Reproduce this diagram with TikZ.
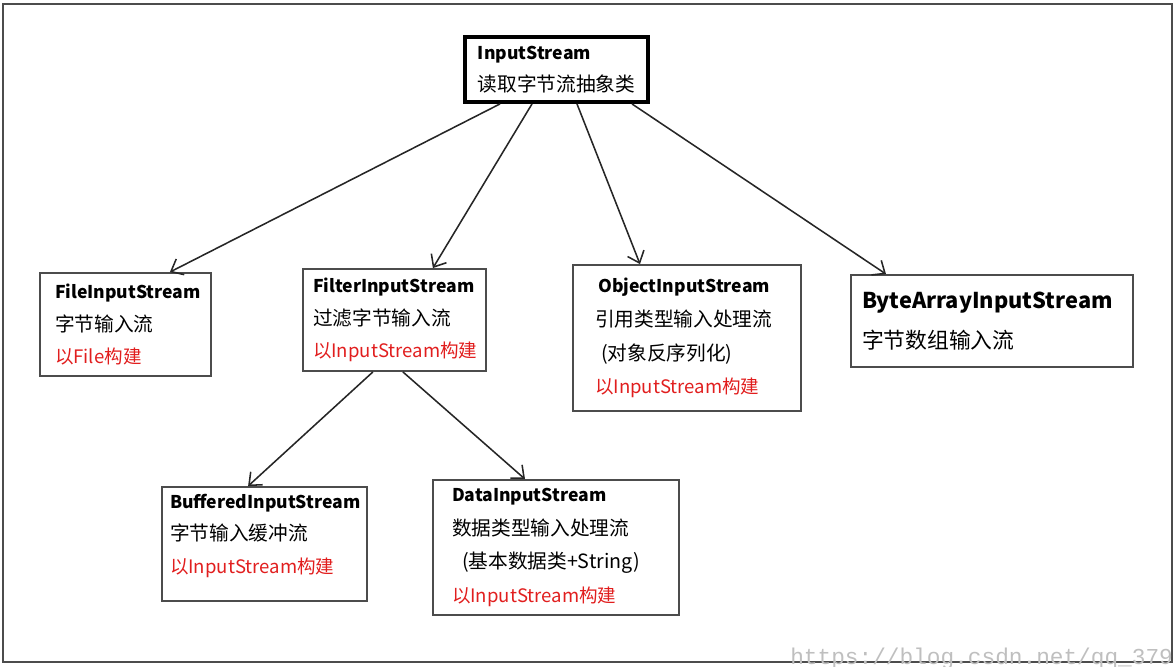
\documentclass[tikz,border=0pt]{standalone}
\usepackage{fontspec}
\setmainfont{Noto Sans CJK SC}
\newfontfamily\markfont{Liberation Mono}
\usepackage{xcolor}
\usepackage{tikz}
\usetikzlibrary{positioning,arrows.meta}
\definecolor{buildred}{RGB}{225,30,30}
\tikzset{
    streambox/.style={rectangle, draw=black!70, line width=1.3pt, align=left, inner ysep=0pt, font=\fontsize{14pt}{23pt}\selectfont},
    rootbox/.style={streambox, draw=black, line width=2.6pt},
    inherit/.style={-{Straight Barb[length=2.6mm, width=4.4mm]}, line width=1.1pt, black!85}
}
\newcommand{\streamtitle}[1]{{\fontsize{12.5pt}{23pt}\selectfont\bfseries #1}}
\newcommand{\buildnote}[1]{{\fontsize{13.2pt}{23pt}\selectfont\textcolor{buildred}{#1}}}

\begin{document}
\begin{tikzpicture}
    \useasboundingbox (0,0) rectangle (29.35,-16.65);
    % Rahmen
    \draw[black!70, line width=1.4pt] (0.075,-0.1) rectangle (29.3,-16.55);

    % Klassen
    \node[rootbox, text width=3.925cm, inner xsep=0.325cm, minimum height=1.625cm] (in) at (13.91,-1.74)
        {\streamtitle{InputStream}\\ 读取字节流抽象类};
    \node[streambox, text width=3.525cm, inner xsep=0.375cm, minimum height=2.575cm] (file) at (3.1375,-8.1125)
        {\streamtitle{FileInputStream}\\ 字节输入流\\ \buildnote{以File构建}};
    \node[streambox, text width=4.075cm, inner xsep=0.25cm, minimum height=2.55cm] (filter) at (9.8625,-8.0)
        {\streamtitle{FilterInputStream}\\ 过滤字节输入流\\ \buildnote{以InputStream构建}};
    \node[streambox, text width=4.6cm, inner xsep=0.55cm, minimum height=3.65cm, font=\fontsize{14pt}{24pt}\selectfont] (object) at (17.175,-8.45)
        {\hspace*{0.08cm}\streamtitle{ObjectInputStream}\\ 引用类型输入处理流\\ \hspace*{0.15cm}(对象反序列化)\\ \buildnote{以InputStream构建}};
    \node[streambox, text width=6.5cm, inner xsep=0.275cm, minimum height=2.3cm, font=\fontsize{15.5pt}{28pt}\selectfont] (bytes) at (24.8,-8.025)
        {{\bfseries ByteArrayInputStream}\\ 字节数组输入流};
    \node[streambox, text width=4.725cm, inner xsep=0.2cm, minimum height=2.85cm] (buffered) at (6.6125,-13.6)
        {\streamtitle{BufferedInputStream}\\ 字节输入缓冲流\\ \buildnote{以InputStream构建}\\[-0.3cm]\mbox{}};
    \node[streambox, text width=5.2cm, inner xsep=0.475cm, minimum height=3.375cm, font=\fontsize{14pt}{24pt}\selectfont] (data) at (13.9,-13.6875)
        {\streamtitle{DataInputStream}\\ 数据类型输入处理流\\ \hspace*{0.25cm}(基本数据类+String)\\ \buildnote{以InputStream构建}};

    % Vererbung
    \draw[inherit] ([xshift=-1.41cm]in.south) -- ([xshift=1.11cm]file.north);
    \draw[inherit] ([xshift=-0.61cm]in.south) -- ([xshift=0.96cm]filter.north);
    \draw[inherit] ([xshift=0.515cm]in.south) -- ([xshift=-1.175cm]object.north);
    \draw[inherit] ([xshift=1.89cm]in.south) -- ([xshift=-2.65cm]bytes.north);
    \draw[inherit] ([xshift=-0.54cm]filter.south) -- ([xshift=-0.41cm]buffered.north);
    \draw[inherit] ([xshift=0.21cm]filter.south) -- ([xshift=-0.775cm]data.north);

    % Wasserzeichen
    \node[anchor=base west, inner sep=0pt, text=black!25, font=\markfont\fontsize{16.2pt}{18pt}\selectfont] (mark) at (19.75,-16.62) {https://blog.csdn.net/qq\_379};
\end{tikzpicture}
\end{document}
